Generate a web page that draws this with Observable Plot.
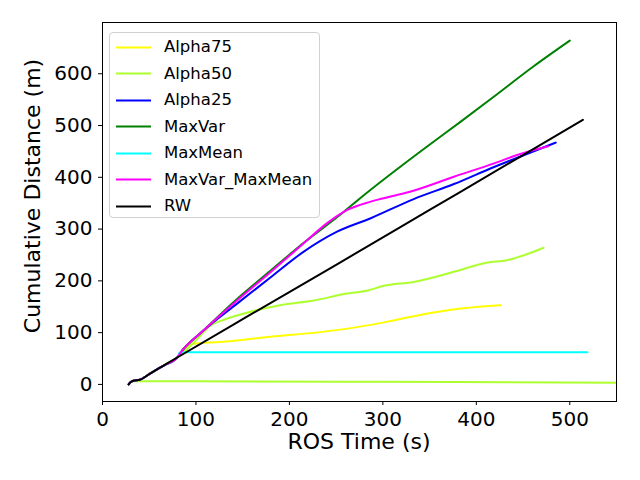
<!DOCTYPE html>
<html><head><meta charset="utf-8">
<script src="https://cdn.jsdelivr.net/npm/d3@7"></script>
<script src="https://cdn.jsdelivr.net/npm/@observablehq/plot@0.6"></script>
<style>
body{margin:0;background:#fff;font-family:"DejaVu Sans",sans-serif;}
#wrap{position:relative;width:640px;height:480px;overflow:hidden;}
#wrap > svg{position:absolute;left:0;top:0;}
.lab{position:absolute;color:#000;white-space:nowrap;font-family:"DejaVu Sans",sans-serif;}
#legend{position:absolute;left:109px;top:32px;width:211px;height:186px;box-sizing:border-box;border:1px solid #d0d0d0;border-radius:4px;background:rgba(255,255,255,0.8);}
#legend .lrow{position:absolute;left:0;width:205px;height:20px;}
#legend .lrow svg{position:absolute;left:6px;top:8.5px;}
#legend .lrow span{position:absolute;left:54px;top:0px;font-size:16.5px;line-height:20px;white-space:nowrap;}
</style>
</head><body><div id="wrap"></div>
<script>
// Series names and colours (legend order)
const seriesNames = ["Alpha75","Alpha50","Alpha25","MaxVar","MaxMean","MaxVar_MaxMean","RW"];
const seriesColors = ["yellow","greenyellow","blue","green","cyan","magenta","black"];

// Shared start path (all runs)
const startX = [28, 30, 33, 40, 50, 65, 80];
const startY = [0, 4, 7, 9, 20, 36, 52];

const alpha75X = [88, 96, 126, 180, 233, 287, 315, 351, 386, 426];
const alpha75Y = [68, 78, 82, 92, 101, 115, 125, 138, 147, 153];

const alpha50X = [100, 115, 130, 144, 190, 226, 260, 285, 300, 333, 379, 411, 433, 472];
const alpha50Y = [85, 113, 125, 133, 153, 162, 175, 182, 190, 198, 219, 235, 240, 264];

// second Alpha50 run (flat, not in legend)
const alpha50bX = [32, 100, 300, 560];
const alpha50bY = [6, 6, 5, 3];

const alpha25X = [83, 108, 144, 180, 215, 251, 287, 333, 376, 419, 433, 454, 485];
const alpha25Y = [60, 104, 156, 207, 256, 295, 321, 358, 387, 420, 430, 445, 467];

const maxVarX = [83, 108, 144, 180, 215, 258, 276, 347, 383, 419, 461, 500];
const maxVarY = [60, 104, 165, 220, 273, 333, 360, 459, 507, 556, 614, 664];

const maxMeanX = [83, 519];
const maxMeanY = [62, 62];

const maxVarMaxMeanX = [83, 108, 144, 180, 215, 240, 262, 287, 297, 329, 376, 419, 447, 477];
const maxVarMaxMeanY = [60, 104, 162, 217, 272, 311, 337, 353, 358, 372, 401, 427, 445, 460];

const rwX = [150, 250, 350, 450, 514];
const rwY = [126, 231, 337, 443, 511];

const xTicks = [0, 100, 200, 300, 400, 500];
const yTicks = [0, 100, 200, 300, 400, 500, 600];

function build(name, color, xs, ys, withStart) {
  const rows = [];
  const X = withStart ? startX.concat(xs) : xs;
  const Y = withStart ? startY.concat(ys) : ys;
  for (let i = 0; i < X.length; i++) rows.push({name, color, x: X[i], y: Y[i]});
  return rows;
}
const lines = [
  build("Alpha75", seriesColors[0], alpha75X, alpha75Y, true),
  build("Alpha50b", seriesColors[1], alpha50bX, alpha50bY, false),
  build("Alpha50", seriesColors[1], alpha50X, alpha50Y, true),
  build("Alpha25", seriesColors[2], alpha25X, alpha25Y, true),
  build("MaxVar", seriesColors[3], maxVarX, maxVarY, true),
  build("MaxMean", seriesColors[4], maxMeanX, maxMeanY, true),
  build("MaxVar_MaxMean", seriesColors[5], maxVarMaxMeanX, maxVarMaxMeanY, true),
  build("RW", seriesColors[6], rwX, rwY, true)
];

const chart = Plot.plot({
  width: 640, height: 480,
  marginLeft: 102, marginRight: 24, marginTop: 22, marginBottom: 79,
  style: {fontFamily: "DejaVu Sans, sans-serif", background: "white", color: "black"},
  x: {domain: [0, 550]},
  y: {domain: [-33, 699]},
  marks: [
    ...lines.map(d => Plot.line(d, {x: "x", y: "y", stroke: d[0].color, strokeWidth: 2, curve: "monotone-x", clip: true})),
    Plot.frame({stroke: "black", strokeWidth: 1}),
    Plot.axisX({ticks: xTicks, tickSize: 4, tickPadding: 6, fontSize: 20, label: null, tickFormat: d => String(d)}),
    Plot.axisY({ticks: yTicks, tickSize: 4, tickPadding: 6, fontSize: 20, label: null, tickFormat: d => String(d)})
  ]
});
const wrap = document.getElementById("wrap");
wrap.appendChild(chart);

const xl = document.createElement("div");
xl.className = "lab"; xl.textContent = "ROS Time (s)";
xl.style.fontSize = "22px"; xl.style.left = "359px"; xl.style.top = "429px";
xl.style.transform = "translateX(-50%)";
wrap.appendChild(xl);

const yl = document.createElement("div");
yl.className = "lab"; yl.textContent = "Cumulative Distance (m)";
yl.style.fontSize = "22px"; yl.style.left = "32px"; yl.style.top = "196px";
yl.style.transform = "translate(-50%,-50%) rotate(-90deg)";
wrap.appendChild(yl);

const lg = document.createElement("div");
lg.id = "legend";
seriesNames.forEach((n, i) => {
  const r = document.createElement("div");
  r.className = "lrow";
  r.style.top = (4 + i * 26.5) + "px";
  r.innerHTML = `<svg width="36" height="3"><line x1="0" y1="1.5" x2="35" y2="1.5" stroke="${seriesColors[i]}" stroke-width="2"/></svg><span>${n}</span>`;
  lg.appendChild(r);
});
wrap.appendChild(lg);
</script>
</body></html>
